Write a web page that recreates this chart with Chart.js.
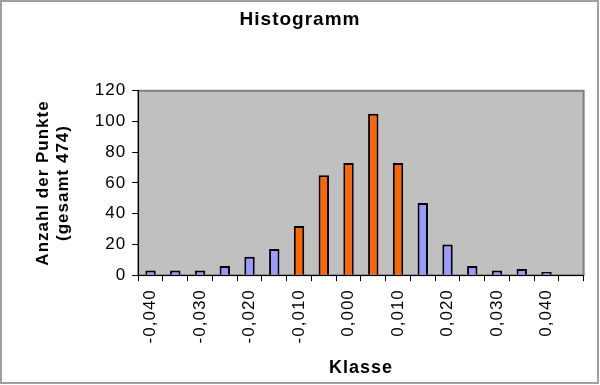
<!DOCTYPE html>
<html>
<head>
<meta charset="utf-8">
<script src="https://cdn.jsdelivr.net/npm/chart.js@4"></script>
<style>
  html, body { margin: 0; padding: 0; background: #fff; }
  #wrap { width: 600px; height: 385px; position: relative; }
</style>
</head>
<body>
<div id="wrap"><canvas id="myChart" width="600" height="385"></canvas></div>
<script>
// Klassen (Mitte) - letzte Klasse ist leer
const klassen = ["-0,040","-0,035","-0,030","-0,025","-0,020","-0,015","-0,010","-0,005","0,000",
  "0,005","0,010","0,015","0,020","0,025","0,030","0,035","0,040","Weitere"];
const anzahl = [3, 3, 3, 6, 12, 17, 32, 65, 73, 105, 73, 47, 20, 6, 3, 4, 2, 0];
// Klassen im Bereich +-0,010 orange
const kernbereich = [0, 0, 0, 0, 0, 0, 1, 1, 1, 1, 1, 0, 0, 0, 0, 0, 0, 0];
const yTicks = [0, 20, 40, 60, 80, 100, 120];

const blau = "#9999FF", orange = "#FF6600";
const schrift = "Arial, 'Liberation Sans'";

const hintergrund = {
  id: "hintergrund",
  beforeUpdate(chart) {
    // etwas Zeichenabstand wie im Original
    chart.ctx.letterSpacing = "1px";
  },
  beforeDraw(chart) {
    const ctx = chart.ctx, a = chart.chartArea;
    ctx.letterSpacing = "1px";
    ctx.save();
    ctx.fillStyle = "#fff";
    ctx.fillRect(0, 0, chart.width, chart.height);
    ctx.fillStyle = "#C0C0C0";
    ctx.fillRect(a.left, a.top, a.right - a.left, a.bottom - a.top);
    ctx.strokeStyle = "#808080";
    ctx.lineWidth = 2;
    ctx.strokeRect(a.left, a.top, a.right - a.left, a.bottom - a.top);
    // Rahmen
    ctx.strokeStyle = "#A0A0A0";
    ctx.lineWidth = 2;
    ctx.strokeRect(1, 1, chart.width - 3, chart.height - 3);
    ctx.restore();
  }
};

const context = document.getElementById("myChart");

new Chart(context, {
  type: "bar",
  data: {
    labels: klassen,
    datasets: [{
      data: anzahl,
      backgroundColor: kernbereich.map(k => k ? orange : blau),
      borderColor: "#000",
      borderWidth: 2,
      categoryPercentage: 1,
      barPercentage: 0.42
    }]
  },
  options: {
    responsive: false,
    animation: false,
    layout: { padding: { left: 12, right: 12, top: 6, bottom: 6 } },
    plugins: {
      legend: { display: false },
      tooltip: { enabled: false },
      title: {
        display: true,
        text: "Histogramm",
        color: "#000",
        font: { family: schrift, size: 19, weight: "bold" },
        padding: { top: 2, bottom: 60 }
      }
    },
    scales: {
      x: {
        grid: { display: true, drawOnChartArea: false, offset: true, color: "#000", tickLength: 6 },
        border: { color: "#000", width: 1 },
        ticks: {
          autoSkip: false,
          minRotation: 90,
          maxRotation: 90,
          color: "#000",
          font: { family: schrift, size: 17 },
          padding: 8,
          callback: (v, i) => (i % 2 === 0 && i < 17) ? klassen[i] : ""
        },
        title: {
          display: true,
          text: "Klasse",
          color: "#000",
          font: { family: schrift, size: 18, weight: "bold" },
          padding: { top: 6, bottom: 0 }
        }
      },
      y: {
        min: 0,
        max: 120,
        afterBuildTicks: axis => { axis.ticks = yTicks.map(v => ({ value: v })); },
        grid: { display: true, drawOnChartArea: false, color: "#000", tickLength: 6 },
        border: { color: "#000", width: 1 },
        ticks: {
          color: "#000",
          font: { family: schrift, size: 17 },
          padding: 6
        },
        title: {
          display: true,
          text: ["Anzahl der Punkte", "(gesamt 474)"],
          color: "#000",
          font: { family: schrift, size: 17, weight: "bold" },
          padding: { top: 21, bottom: 15 }
        }
      }
    }
  },
  plugins: [hintergrund]
});
</script>
</body>
</html>
